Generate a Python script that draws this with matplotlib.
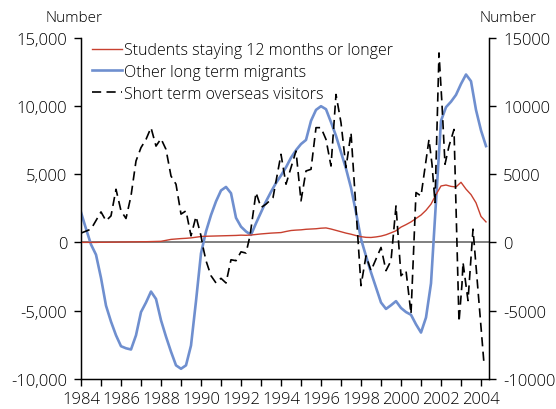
import numpy as np
import matplotlib
matplotlib.use("Agg")
import matplotlib.pyplot as plt
from matplotlib.ticker import FuncFormatter, MultipleLocator

plt.rcParams["font.family"] = ["Open Sans", "DejaVu Sans"]
plt.rcParams["font.weight"] = "light"
plt.rcParams["font.size"] = 12

# quarterly series, 1984Q1 onwards
quarters = 1984 + np.arange(82) * 0.25

students = [0, 0, 0, 0, 10, 10, 20, 20, 30, 30, 40, 40, 50, 50, 60, 70,
            80, 150, 220, 250, 280, 300, 330, 380, 430, 450, 460, 470, 480, 490,
            500, 510, 530, 520, 540, 580, 620, 650, 680, 700, 720, 800, 870, 900,
            920, 960, 980, 1000, 1040, 1060, 980, 880, 780, 680, 600, 500, 420, 370,
            360, 400, 460, 560, 700, 850, 1120, 1300, 1500, 1750, 2000, 2350, 2800,
            3500, 4130, 4200, 4100, 4060, 4400, 3900, 3500, 2900, 1900, 1500]

other_lt = [2200, 1000, -150, -900, -2600, -4630, -5800, -6800, -7600, -7750,
            -7840, -6800, -5100, -4400, -3600, -4140, -5700, -6900, -8000, -9000,
            -9250, -9000, -7550, -4300, -800, 800, 2000, 3000, 3800, 4060, 3600,
            1800, 1150, 800, 550, 1400, 2200, 3000, 3700, 4350, 4900, 5500, 6200,
            6750, 7200, 7500, 8900, 9700, 9970, 9750, 8800, 7800, 6600, 5400, 4000,
            2200, 250, -1000, -2200, -3300, -4400, -4870, -4600, -4300, -4800, -5100,
            -5300, -6000, -6600, -5500, -3000, 3000, 8900, 9900, 10300, 10800, 11600,
            12290, 11800, 9700, 8200, 7050]

# short term visitors, read at irregular points
st_years = [1984.0, 1984.5, 1985.0, 1985.25, 1985.5, 1985.75, 1986.0, 1986.25,
            1986.5, 1986.75, 1987.0, 1987.25, 1987.5, 1987.75, 1988.0, 1988.25,
            1988.5, 1988.75, 1989.0, 1989.25, 1989.5, 1989.75, 1990.0, 1990.1,
            1990.25, 1990.5, 1990.75, 1991.0, 1991.25, 1991.5, 1991.75, 1992.0,
            1992.25, 1992.45, 1992.75, 1993.0, 1993.25, 1993.6, 1994.0, 1994.25,
            1994.75, 1995.0, 1995.25, 1995.5, 1995.75, 1996.0, 1996.25, 1996.5,
            1996.75, 1997.0, 1997.25, 1997.5, 1998.0, 1998.25, 1998.5, 1999.0,
            1999.25, 1999.5, 1999.75, 2000.0, 2000.25, 2000.5, 2000.75, 2001.0,
            2001.4, 2001.55, 2001.7, 2001.9, 2002.05, 2002.2, 2002.4, 2002.65,
            2002.9, 2003.05, 2003.1, 2003.35, 2003.6, 2004.15]
short_term = [680, 970, 2230, 1580, 1940, 3890, 2310, 1750, 3400, 5960, 6940,
              7540, 8400, 7050, 7590, 6810, 4860, 4260, 2070, 2310, 480, 1900, 480,
              -340, -1340, -2440, -2970, -2630, -2970, -1270, -1340, -690, -780, 480,
              3650, 2550, 2800, 3280, 6450, 4260, 6690, 3040, 5230, 5350, 8400, 8400,
              7540, 5590, 10830, 8760, 5470, 8030, -3170, -980, -2070, -370, -2070,
              -1340, 2670, -2440, -2070, -5230, 3650, 3400, 7540, 5720, 2920, 13870,
              10100, 5720, 7050, 8270, -5820, -3040, -1460, -4260, 970, -8880]

year_ticks = list(range(1984, 2005, 2))

fig = plt.figure(figsize=(5.56, 4.10), dpi=100)
ax = fig.add_axes([81 / 556, 1 - 380 / 410, (489 - 81) / 556, (380 - 38.5) / 410])

ax.axhline(0, color="#7f7f7f", lw=1.4, zorder=1)
ax.plot(quarters, students, color="#c8402f", lw=1.0,
        label="Students staying 12 months or longer", zorder=3)
ax.plot(quarters, other_lt, color="#6f8fcf", lw=1.9,
        label="Other long term migrants", zorder=2)
ax.plot(st_years, short_term, color="black", lw=1.2, dashes=(5.5, 3.2),
        label="Short term overseas visitors", zorder=4)

ax.set_xlim(1984, 2004.4)
ax.set_ylim(-10000, 15000)
ax.yaxis.set_major_locator(MultipleLocator(5000))
ax.yaxis.set_major_formatter(FuncFormatter(lambda v, p: f"{v:,.0f}"))
ax.set_xticks(year_ticks)
ax.set_xticklabels([str(y) for y in year_ticks])
ax.xaxis.set_minor_locator(MultipleLocator(1))
ax.tick_params(axis="x", which="both", length=5, width=1, pad=4, direction="out")
ax.tick_params(axis="y", length=5, width=1, pad=5, direction="out")
ax.spines["top"].set_visible(False)
for s in ["left", "right", "bottom"]:
    ax.spines[s].set_linewidth(1)

ax2 = ax.twinx()
ax2.set_ylim(-10000, 15000)
ax2.yaxis.set_major_locator(MultipleLocator(5000))
ax2.yaxis.set_major_formatter(FuncFormatter(lambda v, p: f"{v:.0f}"))
ax2.tick_params(axis="y", length=5, width=1, pad=5, direction="out")
ax2.spines["top"].set_visible(False)

fig.text(74 / 556, 1 - 19 / 410, "Number", ha="center", va="center", fontsize=11)
fig.text(508 / 556, 1 - 19 / 410, "Number", ha="center", va="center", fontsize=11)

ax.legend(loc="upper left", bbox_to_anchor=(11 / 408, 0.986), frameon=False,
          fontsize=11.5, handlelength=1.9, handletextpad=0.1, labelspacing=0.36,
          borderpad=0, borderaxespad=0)

fig.savefig("out.png", dpi=100)
